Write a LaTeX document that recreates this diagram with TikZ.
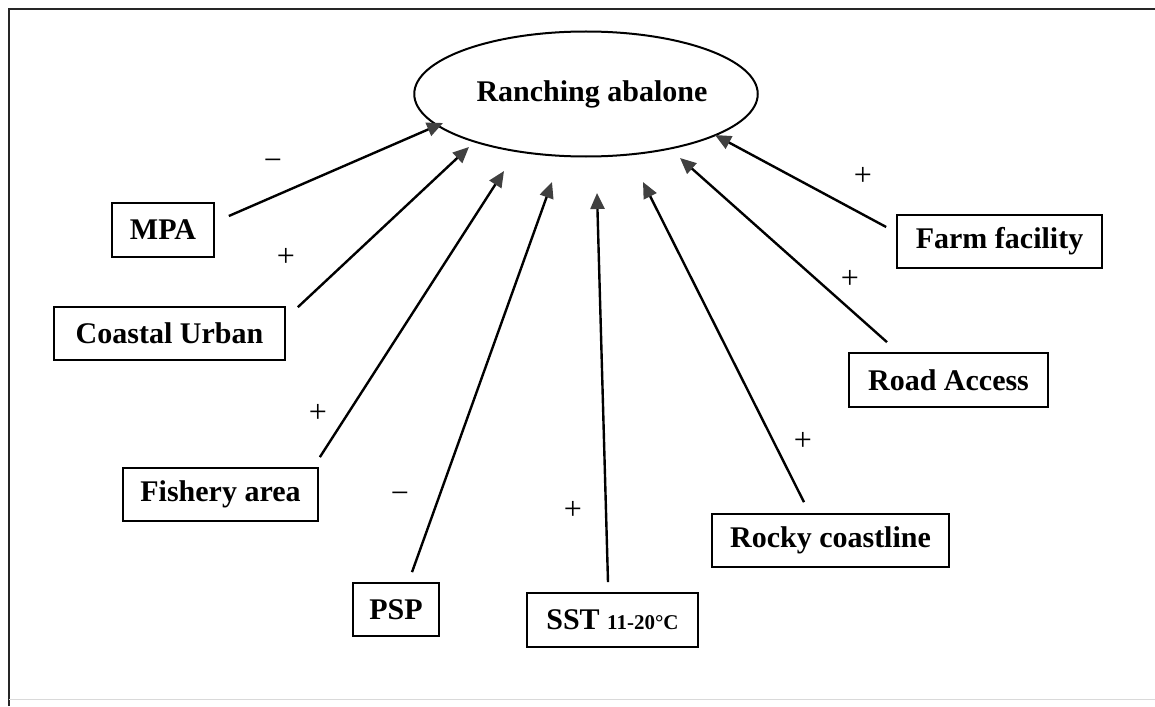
\documentclass[tikz,border=0pt]{standalone}
\usepackage{fontspec}
\setmainfont{Liberation Serif}
\usetikzlibrary{arrows.meta,shapes.geometric}
\begin{document}
\begin{tikzpicture}[x=1pt,y=-1pt,
  factor/.style={draw, line width=1.7pt, rectangle, inner sep=0pt,
    font=\fontsize{30}{30}\selectfont\bfseries},
  hub/.style={draw, line width=2pt, ellipse, inner sep=0pt,
    font=\fontsize{30}{30}\selectfont\bfseries},
  link/.style={line width=2.4pt, draw=black,
    -{Triangle[length=16pt,width=14pt,fill=black!75,color=black!75]}},
  sign/.style={font=\fontsize{32}{32}\selectfont, inner sep=0pt}]

\useasboundingbox (0,0) rectangle (1155,706);

% outer frame
\draw[line width=2pt, black!85] (9,706) -- (9,9) -- (1155,9);
\draw[line width=1pt, black!15] (9,699) -- (1155,699);

% central outcome
\node[hub, minimum width=278pt, minimum height=125pt] (ab) at (586,94)
  {\hspace{12pt}Ranching abalone};

% contributing factors
\node[factor, minimum width=102pt, minimum height=54pt] (mpa) at (163,230) {MPA};
\node[factor, minimum width=231pt, minimum height=53pt] (cu) at (169.5,333.5) {Coastal Urban};
\node[factor, minimum width=195pt, minimum height=53pt] (fish) at (220.5,494.5) {Fishery area};
\node[factor, minimum width=86pt, minimum height=53pt] (psp) at (396,609.5) {PSP};
\node[factor, minimum width=171pt, minimum height=54pt] (sst) at (612.5,620)
  {SST {\fontsize{21}{21}\selectfont 11-20°C}};
\node[factor, minimum width=237pt, minimum height=53pt] (rock) at (830.5,540.5) {Rocky coastline};
\node[factor, minimum width=199pt, minimum height=54pt] (road) at (948.5,380) {Road Access};
\node[factor, minimum width=205pt, minimum height=53pt] (farm) at (999.5,241.5) {Farm facility};

% influence arrows
\draw[link] ([shift={(14,-14)}]mpa.east) -- ([shift={(-143,29)}]ab.center);
\draw[link] ([shift={(12,1)}]cu.north east) -- ([shift={(-117,53)}]ab.center);
\draw[link] ([shift={(1,-10)}]fish.north east) -- ([shift={(-82,77)}]ab.center);
\draw[link] ([shift={(16,-10)}]psp.north) -- ([shift={(-34,88)}]ab.center);
\draw[link] ([shift={(-4.5,-10)}]sst.north) -- ([shift={(11,99)}]ab.center);
\draw[link] ([shift={(-26.5,-11)}]rock.north) -- ([shift={(57,88)}]ab.center);
\draw[link] ([shift={(-61.5,-10)}]road.north) -- ([shift={(94,64)}]ab.center);
\draw[link] ([shift={(-10,-14.5)}]farm.west) -- ([shift={(129,41)}]ab.center);

% effect signs
\node[sign] (s1) at (273,165) {−};
\node[sign] (s2) at (286,257) {+};
\node[sign] (s3) at (318,413) {+};
\node[sign] (s4) at (400,498) {−};
\node[sign] (s5) at (573,510) {+};
\node[sign] (s6) at (803,441) {+};
\node[sign] (s7) at (850,279) {+};
\node[sign] (s8) at (863,176) {+};
\end{tikzpicture}
\end{document}
